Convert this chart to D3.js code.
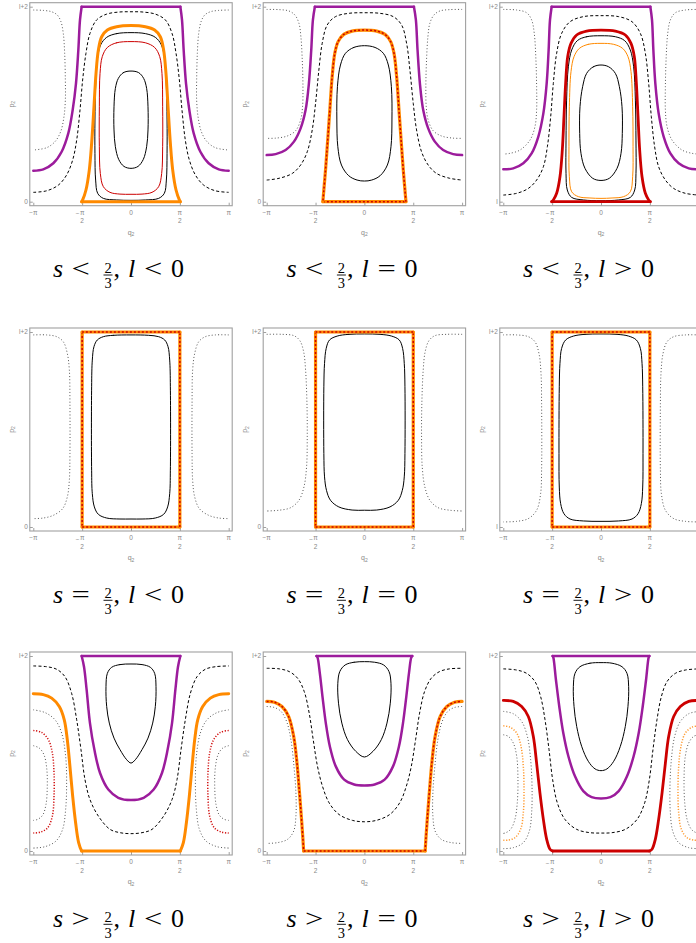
<!DOCTYPE html>
<html><head><meta charset="utf-8">
<script src="https://cdnjs.cloudflare.com/ajax/libs/d3/7.8.5/d3.min.js"></script>
<style>body{margin:0;background:#fff}svg{display:block}</style>
</head><body>
<svg id="c" width="696" height="943"></svg>
<script>
// ---------- tick labels / categories ----------
const xTickValues = [-1, -0.5, 0, 0.5, 1];           // in units of pi
const xTickLabels = ["−π", "−π/2", "0", "π/2", "π"];
const yTopLabel = "l+2";
const yBottomLabels = ["0", "0", "l"];                 // per column
const sRelations = ["<", "=", ">"];                    // per row
const lRelations = ["<", "=", ">"];                    // per column

// ---------- curve data: [q/pi, p/(l+2)] (left half, mirrored by symmetry) ----------
// Row 1, s < 2/3
const r1c1_dotted = [[-1,0.983],[-0.898,0.981],[-0.812,0.974],[-0.754,0.957],[-0.717,0.923],[-0.693,0.863],[-0.679,0.761],[-0.672,0.624],[-0.672,0.521],[-0.686,0.436],[-0.720,0.359],[-0.778,0.308],[-0.863,0.277],[-1,0.265]];
const r1c1_purple = [[-1,0.159],[-0.898,0.166],[-0.795,0.197],[-0.710,0.256],[-0.642,0.350],[-0.597,0.470],[-0.563,0.607],[-0.539,0.778],[-0.522,0.932],[-0.505,1]];
const r1c1_dashed = [[-1,0.048],[-0.863,0.056],[-0.744,0.085],[-0.659,0.137],[-0.597,0.214],[-0.556,0.316],[-0.522,0.470],[-0.495,0.624],[-0.461,0.761],[-0.420,0.863],[-0.352,0.932],[-0.249,0.962],[-0.113,0.973],[0,0.974]];
const r1c1_orange = [[0,0.903],[-0.147,0.897],[-0.242,0.880],[-0.300,0.846],[-0.334,0.778],[-0.358,0.658],[-0.379,0.487],[-0.403,0.299],[-0.427,0.162],[-0.461,0.060],[-0.495,0.009],[-0.505,0]];
const r1c1_black1 = [[0,0.867],[-0.147,0.862],[-0.249,0.843],[-0.311,0.804],[-0.345,0.726],[-0.362,0.590],[-0.369,0.419],[-0.369,0.248],[-0.362,0.111],[-0.341,0.043],[-0.283,0.017],[-0.147,0.009],[0,0.007]];
const r1c1_red = [[0,0.821],[-0.147,0.815],[-0.242,0.791],[-0.294,0.744],[-0.317,0.658],[-0.324,0.487],[-0.324,0.282],[-0.314,0.145],[-0.283,0.077],[-0.215,0.048],[-0.113,0.039],[0,0.038]];
const r1c1_black2 = [[0,0.670],[-0.078,0.662],[-0.130,0.632],[-0.160,0.581],[-0.174,0.487],[-0.174,0.368],[-0.160,0.282],[-0.126,0.217],[-0.072,0.181],[0,0.171]];

const r1c2_dotted = [[-1,0.986],[-0.874,0.985],[-0.772,0.978],[-0.711,0.957],[-0.670,0.915],[-0.650,0.846],[-0.636,0.726],[-0.629,0.590],[-0.633,0.487],[-0.653,0.419],[-0.704,0.364],[-0.789,0.337],[-0.908,0.326],[-1,0.325]];
const r1c2_purple = [[-1,0.239],[-0.908,0.244],[-0.806,0.265],[-0.721,0.308],[-0.653,0.376],[-0.602,0.470],[-0.568,0.607],[-0.544,0.778],[-0.527,0.932],[-0.507,1]];
const r1c2_dashed = [[-1,0.111],[-0.874,0.120],[-0.738,0.145],[-0.653,0.188],[-0.585,0.256],[-0.534,0.368],[-0.500,0.504],[-0.466,0.675],[-0.432,0.812],[-0.381,0.906],[-0.296,0.949],[-0.160,0.966],[0,0.969]];
const r1c2_orangeRed = [[0,0.880],[-0.126,0.875],[-0.211,0.858],[-0.269,0.821],[-0.303,0.761],[-0.330,0.641],[-0.354,0.470],[-0.378,0.299],[-0.398,0.162],[-0.415,0.060],[-0.425,0]];
const r1c2_black = [[0,0.800],[-0.109,0.791],[-0.194,0.761],[-0.245,0.701],[-0.276,0.590],[-0.282,0.419],[-0.272,0.282],[-0.235,0.188],[-0.160,0.133],[-0.075,0.111],[0,0.106]];

const r1c3_dotted = [[-1,0.986],[-0.863,0.983],[-0.761,0.969],[-0.710,0.932],[-0.683,0.863],[-0.666,0.726],[-0.659,0.590],[-0.659,0.470],[-0.676,0.385],[-0.727,0.316],[-0.829,0.265],[-0.932,0.248],[-1,0.244]];
const r1c3_purple = [[-1,0.166],[-0.898,0.171],[-0.795,0.197],[-0.710,0.248],[-0.642,0.333],[-0.590,0.453],[-0.556,0.607],[-0.536,0.778],[-0.522,0.932],[-0.505,1]];
const r1c3_dashed = [[-1,0.034],[-0.863,0.043],[-0.744,0.068],[-0.659,0.111],[-0.590,0.179],[-0.549,0.282],[-0.515,0.436],[-0.488,0.607],[-0.454,0.761],[-0.403,0.863],[-0.317,0.923],[-0.181,0.949],[0,0.954]];
const r1c3_red = [[0,0.880],[-0.147,0.875],[-0.249,0.855],[-0.307,0.812],[-0.341,0.744],[-0.362,0.607],[-0.379,0.436],[-0.396,0.265],[-0.420,0.128],[-0.454,0.043],[-0.488,0.009],[-0.505,0]];
const r1c3_black1 = [[0,0.851],[-0.147,0.846],[-0.242,0.826],[-0.300,0.778],[-0.334,0.692],[-0.352,0.521],[-0.358,0.316],[-0.358,0.145],[-0.345,0.060],[-0.300,0.022],[-0.181,0.009],[0,0.005]];
const r1c3_orange = [[0,0.812],[-0.130,0.807],[-0.222,0.786],[-0.276,0.744],[-0.307,0.667],[-0.324,0.487],[-0.328,0.282],[-0.324,0.128],[-0.300,0.051],[-0.232,0.026],[-0.113,0.019],[0,0.017]];
const r1c3_black2 = [[0,0.701],[-0.078,0.692],[-0.147,0.658],[-0.188,0.590],[-0.215,0.487],[-0.218,0.350],[-0.205,0.248],[-0.164,0.171],[-0.085,0.120],[0,0.109]];

// Row 2, s = 2/3
const r2_rect = [[-0.5,1],[-0.5,0]];
const r2c1_dotted = [[-1,0.985],[-0.863,0.985],[-0.761,0.976],[-0.693,0.950],[-0.652,0.890],[-0.631,0.805],[-0.625,0.634],[-0.625,0.377],[-0.631,0.240],[-0.652,0.154],[-0.700,0.094],[-0.795,0.060],[-0.898,0.046],[-1,0.043]];
const r2c1_black = [[0,0.985],[-0.181,0.983],[-0.283,0.976],[-0.345,0.959],[-0.379,0.925],[-0.396,0.856],[-0.403,0.719],[-0.403,0.291],[-0.396,0.171],[-0.375,0.103],[-0.334,0.065],[-0.249,0.046],[-0.113,0.041],[0,0.041]];
const r2c2_dotted = [[-1,0.988],[-0.840,0.988],[-0.721,0.981],[-0.660,0.955],[-0.622,0.899],[-0.602,0.805],[-0.588,0.634],[-0.585,0.462],[-0.592,0.308],[-0.619,0.205],[-0.670,0.137],[-0.755,0.099],[-0.874,0.086],[-1,0.082]];
const r2c2_black = [[0,0.990],[-0.160,0.988],[-0.279,0.979],[-0.357,0.959],[-0.391,0.916],[-0.408,0.839],[-0.415,0.719],[-0.415,0.377],[-0.408,0.257],[-0.388,0.188],[-0.347,0.137],[-0.262,0.103],[-0.126,0.087],[0,0.086]];
const r2c3_dotted = [[-1,0.985],[-0.863,0.985],[-0.744,0.976],[-0.676,0.950],[-0.635,0.890],[-0.614,0.788],[-0.608,0.634],[-0.608,0.291],[-0.618,0.171],[-0.659,0.086],[-0.744,0.043],[-0.863,0.029],[-1,0.026]];
const r2c3_black = [[0,0.990],[-0.164,0.988],[-0.283,0.979],[-0.362,0.959],[-0.403,0.916],[-0.420,0.839],[-0.427,0.719],[-0.430,0.377],[-0.427,0.205],[-0.413,0.120],[-0.379,0.068],[-0.317,0.041],[-0.181,0.031],[0,0.029]];

// Row 3, s > 2/3
const r3c1_dotOuter = [[-1,0.724],[-0.881,0.710],[-0.778,0.673],[-0.710,0.605],[-0.669,0.486],[-0.659,0.349],[-0.669,0.213],[-0.700,0.111],[-0.768,0.051],[-0.881,0.022],[-1,0.015]];
const r3c1_dotRed = [[-1,0.618],[-0.915,0.608],[-0.846,0.571],[-0.805,0.503],[-0.788,0.400],[-0.788,0.281],[-0.805,0.179],[-0.853,0.119],[-0.925,0.097],[-1,0.092]];
const r3c1_dotInner = [[-1,0.540],[-0.939,0.528],[-0.891,0.494],[-0.863,0.426],[-0.857,0.332],[-0.870,0.239],[-0.904,0.184],[-0.956,0.162],[-1,0.157]];
const r3c1_dashed = [[-1,0.949],[-0.863,0.945],[-0.761,0.932],[-0.676,0.894],[-0.608,0.809],[-0.556,0.673],[-0.512,0.520],[-0.471,0.366],[-0.420,0.264],[-0.334,0.179],[-0.215,0.111],[-0.113,0.094],[0,0.089]];
const r3c1_orange = [[-1,0.806],[-0.898,0.802],[-0.812,0.784],[-0.734,0.741],[-0.683,0.673],[-0.652,0.571],[-0.625,0.434],[-0.597,0.281],[-0.567,0.145],[-0.536,0.043],[-0.505,0]];
const r3c1_purple = [[0,0.261],[-0.130,0.273],[-0.232,0.315],[-0.317,0.400],[-0.375,0.520],[-0.420,0.656],[-0.454,0.826],[-0.481,0.945],[-0.505,1]];
const r3c1_black = [[0,0.959],[-0.113,0.956],[-0.198,0.942],[-0.242,0.911],[-0.256,0.843],[-0.249,0.741],[-0.222,0.656],[-0.174,0.579],[-0.113,0.520],[-0.044,0.468],[0,0.451]];

const r3c2_dotted = [[-1,0.741],[-0.922,0.736],[-0.854,0.716],[-0.796,0.664],[-0.752,0.571],[-0.721,0.434],[-0.701,0.298],[-0.701,0.179],[-0.724,0.102],[-0.786,0.060],[-0.888,0.043],[-1,0.039]];
const r3c2_dashed = [[-1,0.937],[-0.871,0.934],[-0.769,0.920],[-0.684,0.886],[-0.616,0.818],[-0.565,0.707],[-0.524,0.571],[-0.480,0.434],[-0.429,0.332],[-0.361,0.247],[-0.259,0.187],[-0.122,0.157],[0,0.150]];
const r3c2_orangeRed = [[-1,0.767],[-0.922,0.763],[-0.844,0.741],[-0.776,0.690],[-0.724,0.588],[-0.690,0.451],[-0.667,0.315],[-0.646,0.179],[-0.629,0.060],[-0.622,0]];
const r3c2_purple = [[0,0.336],[-0.105,0.341],[-0.207,0.366],[-0.293,0.434],[-0.354,0.537],[-0.395,0.656],[-0.429,0.792],[-0.456,0.911],[-0.480,0.993],[-0.490,1]];
const r3c2_black = [[0,0.971],[-0.105,0.968],[-0.197,0.954],[-0.252,0.920],[-0.272,0.860],[-0.265,0.758],[-0.231,0.656],[-0.173,0.571],[-0.088,0.511],[0,0.482]];

const r3c3_dotOuter = [[-1,0.716],[-0.898,0.704],[-0.812,0.664],[-0.754,0.588],[-0.720,0.468],[-0.706,0.332],[-0.710,0.196],[-0.734,0.102],[-0.795,0.043],[-0.898,0.017],[-1,0.012]];
const r3c3_dotOrange = [[-1,0.642],[-0.932,0.635],[-0.863,0.605],[-0.819,0.537],[-0.795,0.434],[-0.788,0.315],[-0.795,0.196],[-0.823,0.111],[-0.881,0.068],[-0.949,0.056],[-1,0.055]];
const r3c3_dotInner = [[-1,0.596],[-0.949,0.588],[-0.898,0.554],[-0.863,0.486],[-0.850,0.366],[-0.857,0.247],[-0.881,0.162],[-0.925,0.111],[-0.973,0.094],[-1,0.090]];
const r3c3_dashed = [[-1,0.934],[-0.863,0.928],[-0.761,0.911],[-0.676,0.869],[-0.618,0.792],[-0.573,0.673],[-0.532,0.520],[-0.495,0.366],[-0.447,0.247],[-0.369,0.162],[-0.249,0.111],[-0.113,0.094],[0,0.092]];
const r3c3_red = [[-1,0.772],[-0.898,0.767],[-0.812,0.741],[-0.744,0.690],[-0.693,0.588],[-0.659,0.451],[-0.625,0.298],[-0.590,0.162],[-0.556,0.060],[-0.522,0.009],[-0.495,0]];
const r3c3_purple = [[0,0.269],[-0.096,0.276],[-0.181,0.307],[-0.266,0.383],[-0.334,0.486],[-0.386,0.605],[-0.427,0.741],[-0.461,0.877],[-0.488,0.993],[-0.495,1]];
const r3c3_black = [[0,0.966],[-0.113,0.963],[-0.215,0.945],[-0.266,0.911],[-0.283,0.843],[-0.276,0.741],[-0.249,0.639],[-0.198,0.537],[-0.130,0.460],[-0.061,0.421],[0,0.412]];

// ---------- panel composition: [style, symmetry, data] ----------
const panels = [
  [ // row 1
    [["dotted","edge",r1c1_dotted],["dashed","span",r1c1_dashed],["black","loop",r1c1_black1],["redThin","loop",r1c1_red],["black","loop",r1c1_black2],["orange","loop",r1c1_orange],["purple","span",r1c1_purple]],
    [["dotted","edge",r1c2_dotted],["dashed","span",r1c2_dashed],["black","loop",r1c2_black],["orangeRed","loop",r1c2_orangeRed],["purple","span",r1c2_purple]],
    [["dotted","edge",r1c3_dotted],["dashed","span",r1c3_dashed],["black","loop",r1c3_black1],["orangeThin","loop",r1c3_orange],["black","loop",r1c3_black2],["red","loop",r1c3_red],["purple","span",r1c3_purple]]
  ],
  [ // row 2
    [["dotted","edge",r2c1_dotted],["black","loop",r2c1_black],["orangeRed","loop",r2_rect]],
    [["dotted","edge",r2c2_dotted],["black","loop",r2c2_black],["orangeRed","loop",r2_rect]],
    [["dotted","edge",r2c3_dotted],["black","loop",r2c3_black],["orangeRed","loop",r2_rect]]
  ],
  [ // row 3
    [["dotted","edge",r3c1_dotOuter],["dottedRed","edge",r3c1_dotRed],["dotted","edge",r3c1_dotInner],["dashed","span",r3c1_dashed],["black","loop",r3c1_black],["orange","span",r3c1_orange],["purple","loop",r3c1_purple]],
    [["dotted","edge",r3c2_dotted],["dashed","span",r3c2_dashed],["black","loop",r3c2_black],["orangeRed","span",r3c2_orangeRed],["purple","loop",r3c2_purple]],
    [["dotted","edge",r3c3_dotOuter],["dottedOrange","edge",r3c3_dotOrange],["dotted","edge",r3c3_dotInner],["dashed","span",r3c3_dashed],["black","loop",r3c3_black],["red","span",r3c3_red],["purple","loop",r3c3_purple]]
  ]
];

// ---------- styles / layout ----------
const styles = {
  black:[{c:"#000",w:1}],
  dashed:[{c:"#000",w:1,d:"3,2.2"}],
  dotted:[{c:"#555",w:1,d:"1,2.2"}],
  dottedRed:[{c:"#d01010",w:1.5,d:"1.2,1.6"}],
  dottedOrange:[{c:"#ff9a30",w:1.5,d:"1.2,1.6"}],
  purple:[{c:"#9c1c9c",w:2.5}],
  orange:[{c:"#ff8a00",w:3}],
  orangeThin:[{c:"#ff8a00",w:1}],
  red:[{c:"#cc0000",w:2.8}],
  redThin:[{c:"#cc0000",w:1}],
  orangeRed:[{c:"#ff8a00",w:3.2},{c:"#cc0000",w:1.5,d:"2,2"}]
};
const colX = [33.3, 266.7, 503.3];
const rowY = [6.7, 332, 656];
const PW = 195.4, PH = 195;
const frameColor = "#a0a0a0", tickColor = "#888";

const svg = d3.select("#c");
svg.append("rect").attr("width",696).attr("height",943).attr("fill","#fff");
const defs = svg.append("defs");

// mirror the left half about q = 0
function expand(half, sym){
  const mir = half.filter(d=>d[0]!==0).map(d=>[-d[0],d[1]]).reverse();
  if(sym==="edge") return [{pts:half,closed:false},{pts:half.map(d=>[-d[0],d[1]]),closed:false}];
  return [{pts:half.concat(mir), closed: sym==="loop"}];
}
// split at corners lying on the p = 0 / p = l+2 boundary so flat parts stay straight
function pieces(pts, closed){
  const isC = d => d[1]===0 || d[1]===1;
  let idx = pts.map((d,i)=>isC(d)?i:-1).filter(i=>i>=0);
  if(idx.length===0) return [{pts, closed}];
  let arr = pts;
  if(closed){
    arr = pts.slice(idx[0]).concat(pts.slice(0, idx[0]));
    arr = arr.concat([arr[0]]);
    idx = arr.map((d,i)=>isC(d)?i:-1).filter(i=>i>=0);
  }
  const cuts = [0, ...idx.filter(i=>i>0 && i<arr.length-1), arr.length-1];
  const out = [];
  for(let k=0;k<cuts.length-1;k++){
    const seg = arr.slice(cuts[k], cuts[k+1]+1);
    if(seg.length>=2) out.push({pts:seg, closed:false});
  }
  return out;
}

panels.forEach((row, ri)=>{
  row.forEach((curves, ci)=>{
    const x0 = colX[ci], y0 = rowY[ri];
    const x = d3.scaleLinear().domain([-1,1]).range([x0, x0+PW]);
    const y = d3.scaleLinear().domain([0,1]).range([y0+PH, y0]);
    const fx = x0-3.5, fy = y0-4, fw = PW+7, fh = PH+8;
    const g = svg.append("g");
    const cid = "clip"+ri+ci;
    defs.append("clipPath").attr("id",cid).append("rect").attr("x",fx).attr("y",fy).attr("width",fw).attr("height",fh);

    // axes (ticks inward)
    const xa = g.append("g").attr("transform",`translate(0,${fy+fh})`)
      .call(d3.axisBottom(x).tickValues(xTickValues).tickSize(-3).tickFormat(()=>""));
    xa.select(".domain").remove();
    xa.selectAll("line").attr("stroke",frameColor);
    const ya = g.append("g").attr("transform",`translate(${fx},0)`)
      .call(d3.axisLeft(y).tickValues([0,1]).tickSize(-3).tickFormat(()=>""));
    ya.select(".domain").remove();
    ya.selectAll("line").attr("stroke",frameColor);

    // curves
    const cg = g.append("g").attr("clip-path",`url(#${cid})`);
    curves.forEach(([sname, sym, data])=>{
      expand(data, sym).forEach(part=>{
        pieces(part.pts, part.closed).forEach(pc=>{
          const line = d3.line().x(d=>x(d[0])).y(d=>y(d[1]))
            .curve(pc.closed ? d3.curveCatmullRomClosed.alpha(0.5) : d3.curveCatmullRom.alpha(0.5));
          styles[sname].forEach(st=>{
            cg.append("path").attr("d",line(pc.pts)).attr("fill","none")
              .attr("stroke",st.c).attr("stroke-width",st.w)
              .attr("stroke-dasharray",st.d||null)
              .attr("stroke-linecap", st.d ? "butt" : "round")
              .attr("stroke-linejoin","round");
          });
        });
      });
    });

    // frame
    g.append("rect").attr("x",fx).attr("y",fy).attr("width",fw).attr("height",fh)
      .attr("fill","none").attr("stroke",frameColor).attr("stroke-width",1.1);

    // x tick labels
    const fb = fy+fh;
    const tick = (tx, ty, t, anchor) => g.append("text").attr("x",tx).attr("y",ty)
      .attr("text-anchor",anchor||"middle").attr("font-family","Liberation Sans, Arial, sans-serif")
      .attr("font-size",6.5).attr("fill",tickColor).text(t);
    xTickValues.forEach((v,i)=>{
      const lab = xTickLabels[i], px = x(v);
      if(lab.includes("/")){
        tick(px, fb+9, "π");
        tick(px, fb+17.5, "2");
        if(lab.startsWith("−")) tick(px-2.5, fb+10.5, "−", "end");
      } else {
        tick(px, fb+9, lab);
      }
    });
    // y tick labels
    tick(fx-2, y(1)+2.4, yTopLabel, "end");
    tick(fx-2, y(0)+2.4, yBottomLabels[ci], "end");
    // axis titles
    const qt = g.append("text").attr("x",x(0)).attr("y",fb+29).attr("text-anchor","middle")
      .attr("font-family","Liberation Sans, Arial, sans-serif").attr("font-size",7).attr("fill",tickColor);
    qt.append("tspan").text("q");
    qt.append("tspan").attr("dy",1.5).attr("font-size",5).text("2");
    const pt = g.append("text").attr("transform",`translate(${fx-16},${y(0.5)}) rotate(-90)`).attr("text-anchor","middle")
      .attr("font-family","Liberation Sans, Arial, sans-serif").attr("font-size",7).attr("fill",tickColor);
    pt.append("tspan").text("p");
    pt.append("tspan").attr("dy",1.5).attr("font-size",5).text("2");

    // caption
    const cx = x(0) - 9, base = y0 + 270.6, left = cx - 69;
    const cap = svg.append("g").attr("font-family","Liberation Serif, Times New Roman, serif").attr("fill","#000");
    const piece = (t, dx, it) => cap.append("text").attr("x",left+dx).attr("y",base)
        .attr("font-size",26).attr("font-style", it ? "italic" : "normal").text(t);
    const rel = (t, dx) => cap.append("text").attr("transform",`translate(${left+dx},${base}) scale(1.25,1)`)
        .attr("font-size",26).text(t);
    piece("s",0,true);
    rel(sRelations[ri],18.5);
    cap.append("text").attr("x",left+55).attr("y",base-4.5).attr("text-anchor","middle").attr("font-size",14.5).text("2");
    cap.append("line").attr("x1",left+50.5).attr("x2",left+59.5).attr("y1",base-2.3).attr("y2",base-2.3).attr("stroke","#000").attr("stroke-width",0.9);
    cap.append("text").attr("x",left+55).attr("y",base+11).attr("text-anchor","middle").attr("font-size",14.5).text("3");
    piece(",",60.5);
    piece("l",75,true);
    rel(lRelations[ci],91);
    piece("0",118);
  });
});
</script>
</body></html>
